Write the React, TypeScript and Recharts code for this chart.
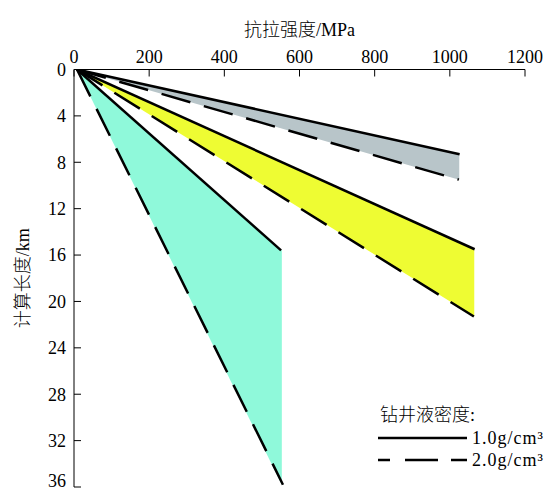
import React from 'react';
import { ComposedChart, Line, Area, XAxis, YAxis } from 'recharts';

const strengthTicks = [0, 200, 400, 600, 800, 1000, 1200];
const lengthTicks = [0, 4, 8, 12, 16, 20, 24, 28, 32, 36];

// strength (MPa) vs computed length (km)
const graySolid = [{ x: 8, y: 0 }, { x: 1026, y: 7.3 }];
const grayDashed = [{ x: 8, y: 0 }, { x: 1024, y: 9.5 }];
const yellowSolid = [{ x: 8, y: 0 }, { x: 1066, y: 15.5 }];
const yellowDashed = [{ x: 8, y: 0 }, { x: 1064, y: 21.3 }];
const cyanSolid = [{ x: 8, y: 0 }, { x: 551, y: 15.6 }];
const cyanDashed = [{ x: 8, y: 0 }, { x: 556, y: 35.8 }];

const grayBand = [{ x: 8, r: [0, 0] }, { x: 1025, r: [7.3, 9.5] }];
const yellowBand = [{ x: 8, r: [0, 0] }, { x: 1065, r: [15.5, 21.3] }];
const cyanBand = [{ x: 8, r: [0, 0] }, { x: 553, r: [15.6, 35.8] }];

const xTitle = '抗拉强度/MPa';
const yTitle = '计算长度/km';
const legendTitle = '钻井液密度:';
const legendItems = ['1.0g/cm³', '2.0g/cm³'];

const FONT = "'Liberation Serif', 'Noto Sans CJK SC', serif";
const DASH = '30 14';

export default function App() {
  return (
    <div style={{ position: 'relative', width: 550, height: 483 }}>
      <ComposedChart
        width={550}
        height={483}
        margin={{ top: 0, right: 33, bottom: 4, left: 0 }}
      >
        <XAxis
          type="number"
          dataKey="x"
          orientation="top"
          domain={[0, 1200]}
          ticks={strengthTicks}
          height={61.5}
          allowDataOverflow
          stroke="#000"
          tickSize={-7}
          tickMargin={14}
          tick={{ fill: '#000', fontSize: 18, fontFamily: FONT }}
          label={{
            content: (p: any) => (
              <text
                x={p.viewBox.x + p.viewBox.width / 2}
                y={22}
                textAnchor="middle"
                dominantBaseline="central"
                fontSize={18}
                fontWeight={300}
                fontFamily={FONT}
                fill="#000"
              >
                {xTitle}
              </text>
            ),
          }}
        />
        <YAxis
          type="number"
          dataKey="y"
          domain={[0, 36]}
          reversed
          ticks={lengthTicks}
          width={66}
          allowDataOverflow
          stroke="#000"
          tickSize={-7}
          tickMargin={15}
          tick={{ fill: '#000', fontSize: 18, fontFamily: FONT }}
          label={{
            content: (p: any) => (
              <text
                x={15}
                y={p.viewBox.y + p.viewBox.height / 2}
                textAnchor="middle"
                dominantBaseline="central"
                fontSize={18}
                fontWeight={300}
                fontFamily={FONT}
                fill="#000"
                transform={`rotate(-90 15 ${p.viewBox.y + p.viewBox.height / 2})`}
              >
                {yTitle}
              </text>
            ),
          }}
        />
        <Area data={grayBand} dataKey="r" type="linear" fill="#b8c5c9" fillOpacity={1} stroke="none" isAnimationActive={false} />
        <Area data={yellowBand} dataKey="r" type="linear" fill="#eefc33" fillOpacity={1} stroke="none" isAnimationActive={false} />
        <Area data={cyanBand} dataKey="r" type="linear" fill="#8ff9da" fillOpacity={1} stroke="none" isAnimationActive={false} />
        <Line data={graySolid} dataKey="y" type="linear" stroke="#000" strokeWidth={2.5} dot={false} isAnimationActive={false} />
        <Line data={grayDashed} dataKey="y" type="linear" stroke="#000" strokeWidth={2.5} strokeDasharray={DASH} dot={false} isAnimationActive={false} />
        <Line data={yellowSolid} dataKey="y" type="linear" stroke="#000" strokeWidth={2.5} dot={false} isAnimationActive={false} />
        <Line data={yellowDashed} dataKey="y" type="linear" stroke="#000" strokeWidth={2.5} strokeDasharray={DASH} dot={false} isAnimationActive={false} />
        <Line data={cyanSolid} dataKey="y" type="linear" stroke="#000" strokeWidth={2.5} dot={false} isAnimationActive={false} />
        <Line data={cyanDashed} dataKey="y" type="linear" stroke="#000" strokeWidth={2.5} strokeDasharray={DASH} dot={false} isAnimationActive={false} />
      </ComposedChart>
      <svg
        width={190}
        height={80}
        style={{ position: 'absolute', left: 366, top: 392 }}
        fontFamily={FONT}
      >
        <text x={6} y={15} fontSize={18} fontWeight={300} dominantBaseline="central" fill="#000">
          {legendTitle}
        </text>
        <line x1={4} x2={93} y1={38} y2={38} stroke="#000" strokeWidth={2.5} />
        <text x={98} y={38} fontSize={18} letterSpacing={1} dominantBaseline="central" fill="#000">
          {legendItems[0]}
        </text>
        <line x1={4} x2={93} y1={60} y2={60} stroke="#000" strokeWidth={2.5} strokeDasharray="12 15 33 13 16" />
        <text x={98} y={60} fontSize={18} letterSpacing={1} dominantBaseline="central" fill="#000">
          {legendItems[1]}
        </text>
      </svg>
    </div>
  );
}
